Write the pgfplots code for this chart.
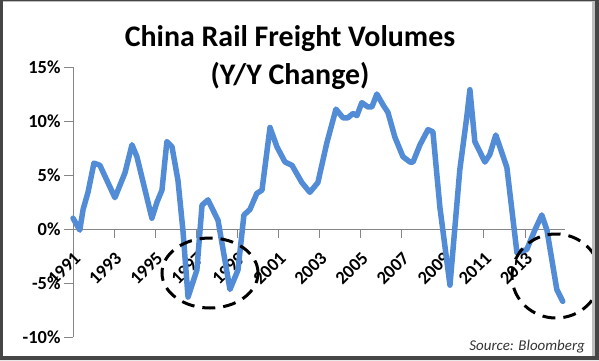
\documentclass[border=0pt]{standalone}
\usepackage{pgfplots}
\pgfplotsset{compat=1.18}
\usepackage{fontspec}
\setmainfont{Carlito}
\definecolor{lineblue}{RGB}{83,140,214}
\definecolor{axgray}{RGB}{134,134,134}
\definecolor{framegray}{RGB}{70,70,70}
\begin{document}
\begin{tikzpicture}
\begin{axis}[name=a, scale only axis, width=492bp, height=270bp,
 xmin=1991, xmax=2014.95, ymin=-10, ymax=15,
 axis x line=middle, axis y line=left,
 hide obscured x ticks=false, hide obscured y ticks=false,
 axis line style={-, draw=axgray, line width=0.8bp},
 tick style={draw=axgray, line width=0.8bp}, tick align=outside, major tick length=9bp,
 xtick={1991,1993,1995,1997,1999,2001,2003,2005,2007,2009,2011,2013},
 xticklabels={1991,1993,1995,1997,1999,2001,2003,2005,2007,2009,2011,2013},
 ytick={-10,-5,0,5,10,15},
 yticklabels={-10\%,-5\%,0\%,5\%,10\%,15\%},
 xticklabel style={font=\fontsize{18.5}{20}\selectfont\bfseries, yshift=-8bp, rotate=45, anchor=north east},
 yticklabel style={font=\fontsize{18.5}{20}\selectfont\bfseries},
 clip=false,
]
\addplot[lineblue, line width=5.5bp, line join=round, line cap=round] table {
1991.00 1.0
1991.33 -0.1
1991.49 1.8
1991.73 3.4
1992.02 6.1
1992.31 5.9
1993.04 2.9
1993.53 5.2
1993.87 7.8
1994.11 6.7
1994.84 1.0
1995.09 2.5
1995.33 3.6
1995.57 8.1
1995.82 7.6
1996.11 4.5
1996.35 -0.1
1996.60 -6.3
1997.03 -3.8
1997.28 2.2
1997.57 2.7
1998.06 0.8
1998.64 -5.6
1999.03 -3.8
1999.32 1.3
1999.61 1.8
1999.95 3.3
2000.20 3.6
2000.59 9.4
2000.93 7.6
2001.32 6.2
2001.66 5.9
2002.14 4.3
2002.53 3.4
2002.92 4.3
2003.36 8.0
2003.80 11.1
2004.14 10.3
2004.38 10.3
2004.63 10.7
2004.82 10.5
2005.06 11.7
2005.36 11.3
2005.55 11.3
2005.79 12.5
2006.09 11.5
2006.33 10.8
2006.67 8.5
2007.06 6.7
2007.40 6.2
2007.55 6.2
2007.89 7.8
2008.28 9.2
2008.52 9.0
2008.86 2.0
2009.35 -5.2
2009.83 5.5
2010.17 10.4
2010.32 12.9
2010.56 8.1
2011.05 6.2
2011.29 6.9
2011.58 8.7
2011.78 7.6
2012.12 5.7
2012.61 -2.2
2012.75 -2.1
2013.09 -1.9
2013.48 -0.1
2013.82 1.3
2014.07 -0.1
2014.55 -5.6
2014.84 -6.7
};
\end{axis}
\begin{scope}[shift={(a.south west)}, xshift=-73bp, yshift=337bp, x=1bp, y=-1bp]
 \draw[black, line width=3bp, dash pattern=on 13bp off 8bp] (210,273) ellipse [x radius=48bp, y radius=35bp];
 \draw[black, line width=3bp, dash pattern=on 13bp off 8bp] (556,276) ellipse [x radius=44bp, y radius=42bp];
 \fill[framegray, even odd rule] (0,0) rectangle (599,360) (3,1.5) rectangle (595,356);
 \fill[gray!50] (592,1.5) rectangle (595,356);
 \node[anchor=base, font=\fontsize{30}{36}\selectfont\bfseries, inner sep=0pt] at (290,46) {China Rail Freight Volumes};
 \node[anchor=base, font=\fontsize{30}{36}\selectfont\bfseries, inner sep=0pt] at (290,84) {(Y/Y Change)};
 \node[anchor=base east, font=\fontsize{15}{17}\selectfont\itshape, inner sep=0pt, text=black!80] at (585,350) {Source: Bloomberg};
 \pgfresetboundingbox
 \path[use as bounding box] (0,0) rectangle (599,360);
\end{scope}
\end{tikzpicture}
\end{document}
